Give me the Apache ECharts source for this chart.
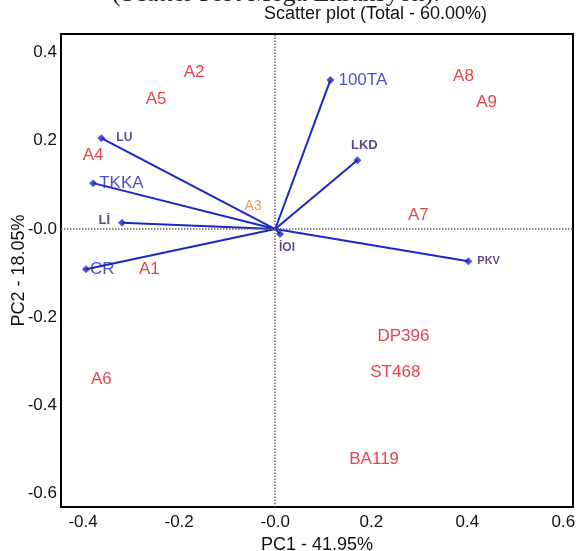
<!DOCTYPE html>
<html>
<head>
<meta charset="utf-8">
<script src="https://cdn.jsdelivr.net/npm/echarts@6/dist/echarts.min.js"></script>
<style>
  html, body { margin: 0; padding: 0; background: #fff; }
  #chart { width: 578px; height: 551px; }
</style>
</head>
<body>
<div id="chart"></div>
<script>
// genotypes (red labels)
const genoNames = ['A1', 'A2', 'A3', 'A4', 'A5', 'A6', 'A7', 'A8', 'A9', 'DP396', 'ST468', 'BA119'];
const genoPC1 = [-0.262, -0.169, -0.046, -0.379, -0.248, -0.362, 0.298, 0.392, 0.44, 0.267, 0.25, 0.206];
const genoPC2 = [-0.091, 0.356, 0.052, 0.166, 0.295, -0.34, 0.032, 0.345, 0.288, -0.243, -0.324, -0.522];

// trait vectors
const traitNames = ['100TA', 'LKD', 'PKV', 'İOI', 'LU', 'TKKA', 'Lİ', 'CR'];
const traitPC1 = [0.115, 0.171, 0.402, 0.01, -0.362, -0.379, -0.319, -0.394];
const traitPC2 = [0.338, 0.156, -0.073, -0.011, 0.206, 0.104, 0.014, -0.091];

const xTicks = [-0.4, -0.2, 0, 0.2, 0.4, 0.6];
const yTicks = [-0.6, -0.4, -0.2, 0, 0.2, 0.4];

const RED = '#e0141c', ORANGE = '#ef7f2a', BLUE = '#1a28c4', PURPLE = '#37195f';
const FONT = '"Liberation Sans", Arial, sans-serif';

// label placement per trait
const traitLabel = {
    '100TA': { position: 'right', distance: 4, color: BLUE, fontSize: 17 },
    'LKD':   { position: 'top', distance: 4, offset: [7, 0], color: PURPLE, fontSize: 13, fontWeight: 'bold' },
    'PKV':   { position: 'right', distance: 5, color: PURPLE, fontSize: 11, fontWeight: 'bold' },
    'İOI':   { position: 'bottom', distance: 4, offset: [7, 0], color: PURPLE, fontSize: 12, fontWeight: 'bold' },
    'LU':    { position: 'right', distance: 11, color: PURPLE, fontSize: 12, fontWeight: 'bold' },
    'TKKA':  { position: 'right', distance: 2, color: BLUE, fontSize: 17 },
    'Lİ':    { position: 'left', distance: 8, offset: [0, -2], color: PURPLE, fontSize: 13, fontWeight: 'bold' },
    'CR':    { position: 'right', distance: 0, color: BLUE, fontSize: 17 }
};

const fmt = v => Math.abs(v) < 1e-9 ? '-0.0' : v.toFixed(1);

const chart = echarts.init(document.getElementById('chart'));
chart.setOption({
    animation: false,
    backgroundColor: '#fff',
    grid: {
        left: 61, right: 5, top: 34, bottom: 44, outerBoundsMode: 'none', containLabel: false,
        show: true, borderColor: '#000', borderWidth: 2, backgroundColor: 'transparent'
    },
    title: {
        text: 'Scatter plot (Total - 60.00%)', left: 259, top: 0,
        textStyle: { fontFamily: FONT, fontSize: 18, fontWeight: 'normal', color: '#111' }
    },
    graphic: [{
        type: 'text', left: 112, top: -19,
        style: { text: '(Scatter Plot Mega Ekransyon).', font: '26px "Liberation Serif", serif', fill: '#222' }
    }],
    xAxis: {
        type: 'value', min: -0.446, max: 0.62,
        name: 'PC1 - 41.95%', nameLocation: 'middle', nameGap: 27,
        nameTextStyle: { fontFamily: FONT, fontSize: 18, color: '#111' },
        axisLine: { show: false }, axisTick: { show: false }, splitLine: { show: false },
        axisLabel: { customValues: xTicks, formatter: fmt, fontFamily: FONT, fontSize: 17, color: '#111', margin: 7 }
    },
    yAxis: {
        type: 'value', min: -0.63, max: 0.442,
        name: 'PC2 - 18.05%', nameLocation: 'middle', nameGap: 33, nameMoveOverlap: false,
        nameTextStyle: { fontFamily: FONT, fontSize: 18, color: '#111' },
        axisLine: { show: false }, axisTick: { show: false }, splitLine: { show: false },
        axisLabel: { customValues: yTicks, formatter: fmt, fontFamily: FONT, fontSize: 17, color: '#111', margin: 4 }
    },
    series: [
        {
            type: 'lines', coordinateSystem: 'cartesian2d', silent: true, z: 3,
            lineStyle: { color: BLUE, width: 2, opacity: 1 },
            data: traitNames.map((n, i) => ({ coords: [[0, 0], [traitPC1[i], traitPC2[i]]] }))
        },
        {
            type: 'scatter', symbol: 'diamond', symbolSize: 8, z: 4,
            itemStyle: { color: BLUE },
            data: traitNames.map((n, i) => ({
                name: n, value: [traitPC1[i], traitPC2[i]],
                label: Object.assign({ show: true, formatter: '{b}', fontFamily: FONT }, traitLabel[n])
            }))
        },
        {
            type: 'scatter', symbolSize: 0, z: 5,
            data: genoNames.map((n, i) => ({
                name: n, value: [genoPC1[i], genoPC2[i]],
                label: {
                    show: true, position: 'inside', formatter: '{b}', fontFamily: FONT,
                    color: n === 'A3' ? ORANGE : RED, fontSize: n === 'A3' ? 14 : 17
                }
            })),
            markLine: {
                silent: true, symbol: 'none', label: { show: false },
                lineStyle: { color: '#666', type: 'dotted', width: 1.5 },
                data: [{ xAxis: 0 }, { yAxis: 0 }]
            }
        }
    ]
});
</script>
</body>
</html>
